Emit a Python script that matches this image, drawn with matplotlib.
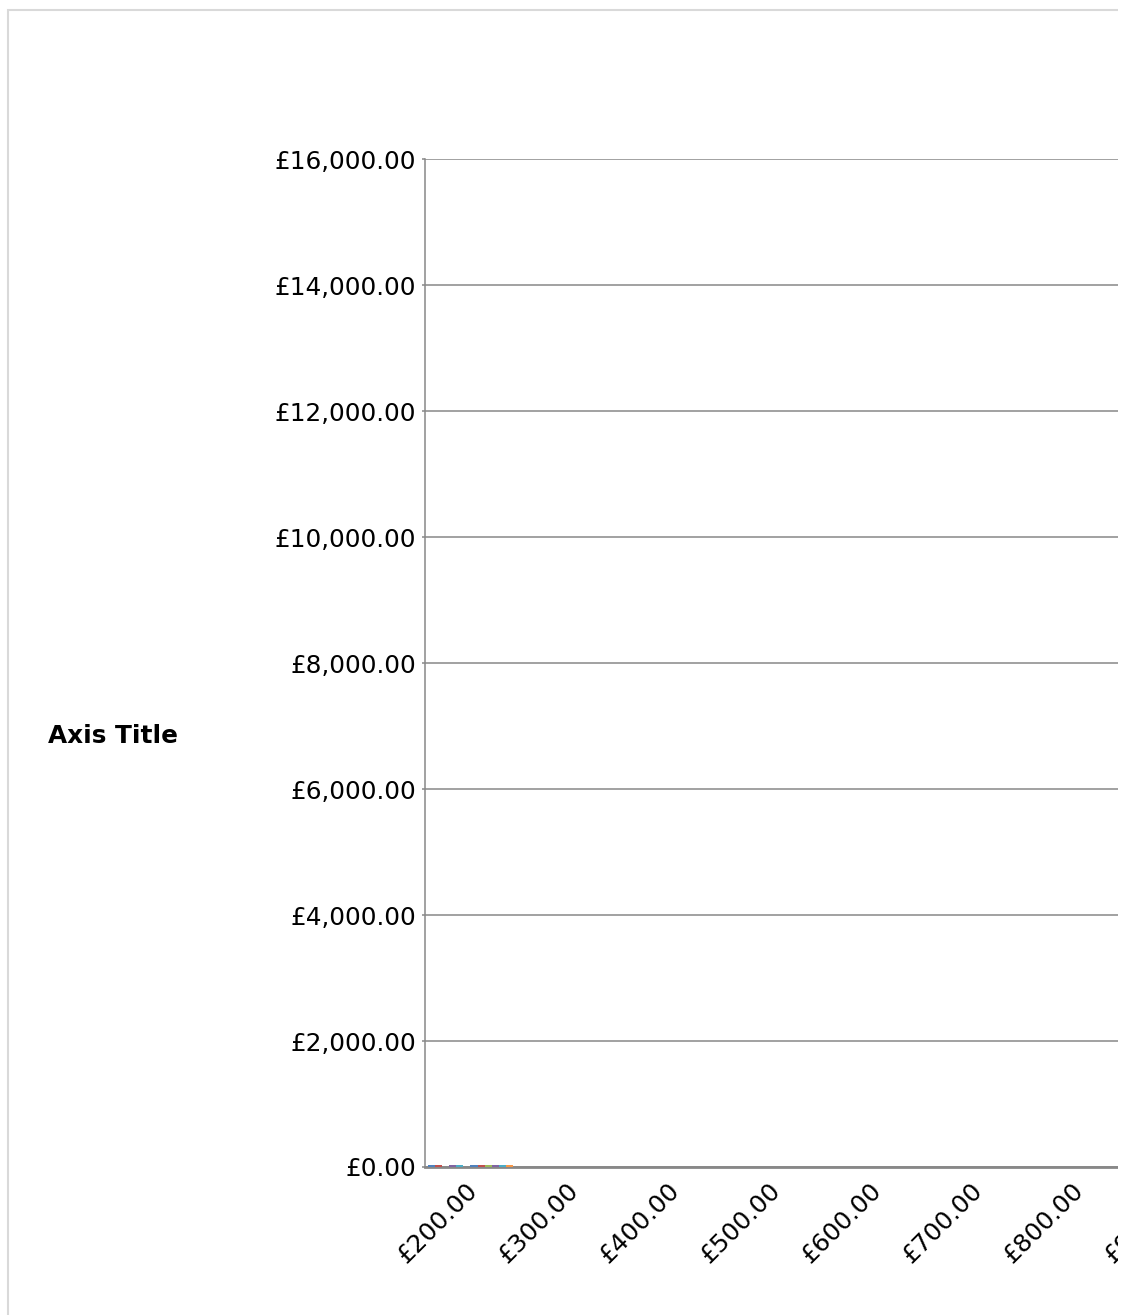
import numpy as np
import matplotlib.pyplot as plt
from matplotlib.patches import Rectangle
from matplotlib.ticker import FuncFormatter

# data: two price groups, six series, all tiny values
price_points = [184, 226]
series_names = ['Series1', 'Series2', 'Series3', 'Series4', 'Series5', 'Series6']
series_colors = ['#4F81BD', '#C0504D', '#9BBB59', '#8064A2', '#4BACC6', '#F79646']
series_values = [
    [30, 30],
    [30, 30],
    [0, 30],
    [30, 30],
    [30, 30],
    [0, 30],
]
y_ticks = [0, 2000, 4000, 6000, 8000, 10000, 12000, 14000, 16000]
x_ticks = [200, 300, 400, 500, 600, 700, 800, 900, 1000]

W, H = 1128, 1315
fig = plt.figure(figsize=(W / 100, H / 100), dpi=100)

left_px, right_px = 425, 1400
top_px, bottom_px = 159, 1167
ax = fig.add_axes([left_px / W, (H - bottom_px) / H,
                   (right_px - left_px) / W, (bottom_px - top_px) / H])

bar_w = 7
for i, (name, col, vals) in enumerate(zip(series_names, series_colors, series_values)):
    xs = np.array(price_points) + (i - 2.5) * bar_w
    ax.bar(xs, vals, width=bar_w, color=col, label=name, zorder=3)

px_per_pound = 1.01
x0 = 160
ax.set_xlim(x0, x0 + (right_px - left_px) / px_per_pound)
ax.set_ylim(0, 16000)

ax.set_yticks(y_ticks)
ax.set_xticks(x_ticks)
fmt = FuncFormatter(lambda v, p: '£{:,.2f}'.format(v))
ax.yaxis.set_major_formatter(fmt)
ax.xaxis.set_major_formatter(fmt)

ax.grid(axis='y', color='#888888', linewidth=1.1, zorder=1)
ax.set_axisbelow(True)
for s in ['top', 'right']:
    ax.spines[s].set_visible(False)
ax.spines['left'].set_color('#888888')
ax.spines['left'].set_linewidth(1.1)
ax.spines['bottom'].set_color('#888888')
ax.spines['bottom'].set_linewidth(2.0)
ax.spines['bottom'].set_zorder(2)

ax.tick_params(axis='y', length=2.5, color='#888888', width=1.1, labelsize=17.8, pad=4)
ax.tick_params(axis='x', length=0, labelsize=17.8, pad=8)
for lab in ax.get_xticklabels():
    lab.set_rotation(45)
    lab.set_ha('right')
    lab.set_rotation_mode('anchor')

fig.text(48 / W, 1 - 736 / H, 'Axis Title', fontsize=17.8, fontweight='bold',
         ha='left', va='center')

# chart border, cut on the right and bottom
fig.patches.append(Rectangle((8 / W, -0.05), 1.2, 1.05 - 10 / H,
                             transform=fig.transFigure, facecolor='none',
                             edgecolor='#d9d9d9', linewidth=1.5, zorder=5))
fig.patches.append(Rectangle((1118 / W, 0), 10 / W, 1, transform=fig.transFigure,
                             facecolor='white', edgecolor='none', zorder=10))

plt.savefig('out.png', dpi=100)
